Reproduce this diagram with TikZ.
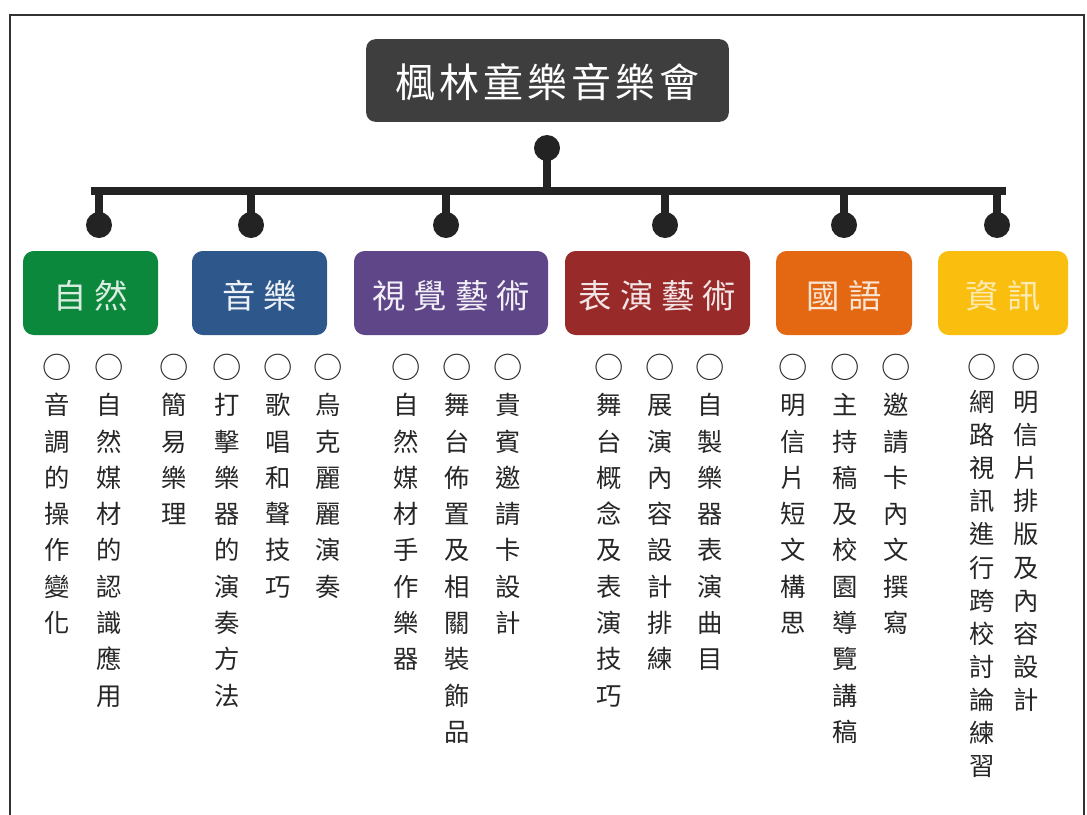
\documentclass[tikz,border=0pt]{standalone}
\usepackage{fontspec}
\newfontfamily\cjk{Noto Sans CJK TC}
\definecolor{cgreen}{RGB}{12,136,60}
\definecolor{cblue}{RGB}{46,88,140}
\definecolor{cpurple}{RGB}{94,70,136}
\definecolor{cred}{RGB}{152,42,42}
\definecolor{corange}{RGB}{228,104,18}
\definecolor{cyellow}{RGB}{250,190,15}
\definecolor{ctitle}{RGB}{62,62,62}
\definecolor{cline}{RGB}{35,35,35}
\definecolor{cframe}{RGB}{50,50,50}
\newcommand\tsp{\hspace{3pt}}
\newcommand\csp{\hspace{6pt}}
\newcommand\ring{{\fontsize{22pt}{27pt}\selectfont ○}}
\begin{document}
\begin{tikzpicture}[x=0.75pt,y=-0.75pt,
  frame/.style={draw=cframe,line width=1.9pt},
  titlebox/.style={fill=ctitle,rounded corners=7pt,minimum width=272pt,minimum height=62pt,
    text=white,font=\cjk\fontsize{30pt}{32pt}\selectfont,text height=26pt,text depth=0pt,inner sep=0pt},
  catbox/.style={rounded corners=8pt,minimum height=63pt,inner sep=0pt,
    font=\cjk\fontsize{25pt}{27pt}\selectfont,text height=23pt,text depth=0pt},
  bar/.style={draw=cline,line width=6.5pt},
  stem/.style={draw=cline,line width=5.5pt},
  dot/.style={circle,fill=cline,minimum size=19.5pt,inner sep=0pt},
  col/.style={anchor=north,align=center,inner sep=0pt,text=black!85,
    font=\cjk\fontsize{19pt}{27.2pt}\selectfont},
  colt/.style={col,font=\cjk\fontsize{19pt}{24.8pt}\selectfont}
]
\useasboundingbox (0,0) rectangle (1087,814);
\fill[white] (0,0) rectangle (1087,814);
% frame
\coordinate (f1) at (10,830);
\coordinate (f2) at (10,15);
\coordinate (f3) at (1084,15);
\coordinate (f4) at (1084,830);
\draw[frame] (f1) -- (f2) -- (f3) -- (f4);
% title
\node[titlebox] (title) at (547.5,80.5) {楓\tsp 林\tsp 童\tsp 樂\tsp 音\tsp 樂\tsp 會};
% bar
\coordinate (barL) at (91,191);
\coordinate (barR) at (1006,191);
\node[dot] (d0) at (547,148) {};
\draw[stem] (d0.center) -- (d0.center |- barL);
\draw[bar] (barL) -- (barR);
\foreach \n/\x in {1/99,2/251,3/446,4/665,5/844,6/997}{
  \node[dot] (d\n) at (\x,225) {};
  \draw[stem] (d\n.center) -- (d\n.center |- barL);
}
% category boxes
\node[catbox,fill=cgreen,text=white!85!cgreen,minimum width=101.25pt] (c1) at (90.5,293) {自\csp 然};
\node[catbox,fill=cblue,text=white!92!cblue,minimum width=101.25pt] (c2) at (259.5,293) {音\csp 樂};
\node[catbox,fill=cpurple,text=white!92!cpurple,minimum width=145.5pt] (c3) at (451,293) {視\csp 覺\csp 藝\csp 術};
\node[catbox,fill=cred,text=white!88!cred,minimum width=138.75pt] (c4) at (657.5,293) {表\csp 演\csp 藝\csp 術};
\node[catbox,fill=corange,text=white!82!corange,minimum width=102pt] (c5) at (844,293) {國\csp 語};
\node[catbox,fill=cyellow,text=white!68!cyellow,minimum width=97.5pt] (c6) at (1003,293) {資\csp 訊};
% columns
\node[col] (a1) at (57,354) {\ring\\音\\調\\的\\操\\作\\變\\化};
\node[col] (a2) at (109,354) {\ring\\自\\然\\媒\\材\\的\\認\\識\\應\\用};
\node[col] (b1) at (174,354) {\ring\\簡\\易\\樂\\理};
\node[col] (b2) at (227,354) {\ring\\打\\擊\\樂\\器\\的\\演\\奏\\方\\法};
\node[col] (b3) at (278,354) {\ring\\歌\\唱\\和\\聲\\技\\巧};
\node[col] (b4) at (328,354) {\ring\\烏\\克\\麗\\麗\\演\\奏};
\node[col] (e1) at (406,354) {\ring\\自\\然\\媒\\材\\手\\作\\樂\\器};
\node[col] (e2) at (457,354) {\ring\\舞\\台\\佈\\置\\及\\相\\關\\裝\\飾\\品};
\node[col] (e3) at (508,354) {\ring\\貴\\賓\\邀\\請\\卡\\設\\計};
\node[col] (p1) at (609,354) {\ring\\舞\\台\\概\\念\\及\\表\\演\\技\\巧};
\node[col] (p2) at (660,354) {\ring\\展\\演\\內\\容\\設\\計\\排\\練};
\node[col] (p3) at (710,354) {\ring\\自\\製\\樂\\器\\表\\演\\曲\\目};
\node[col] (g1) at (793,354) {\ring\\明\\信\\片\\短\\文\\構\\思};
\node[col] (g2) at (845,354) {\ring\\主\\持\\稿\\及\\校\\園\\導\\覽\\講\\稿};
\node[col] (g3) at (896,354) {\ring\\邀\\請\\卡\\內\\文\\撰\\寫};
\node[colt] (i1) at (982,354) {\ring\\網\\路\\視\\訊\\進\\行\\跨\\校\\討\\論\\練\\習};
\node[colt] (i2) at (1026,354) {\ring\\明\\信\\片\\排\\版\\及\\內\\容\\設\\計};
\end{tikzpicture}
\end{document}
